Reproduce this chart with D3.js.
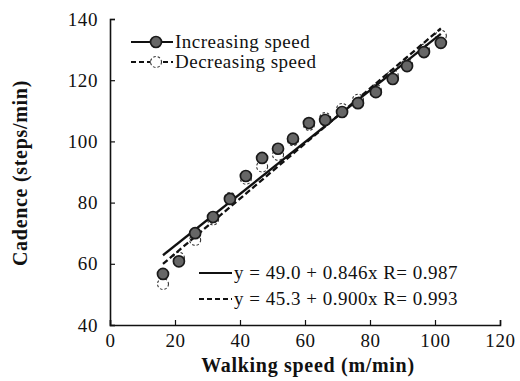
<!DOCTYPE html>
<html>
<head>
<meta charset="utf-8">
<script src="https://cdn.jsdelivr.net/npm/d3@7"></script>
<style>
  html, body { margin: 0; padding: 0; background: #fff; }
  svg { display: block; }
</style>
</head>
<body>
<svg id="chart" width="520" height="381"></svg>
<script>
// Walking speed (m/min) for each trial step
const speeds = [16.3, 21.2, 26.2, 31.7, 36.9, 41.8, 46.8, 51.7, 56.3, 61.2, 66.2, 71.4, 76.3, 81.8, 87.0, 91.4, 96.6, 101.8];
// Cadence (steps/min) while speed was increasing
const cadenceIncreasing = [56.7, 60.8, 70.0, 75.3, 81.2, 88.7, 94.6, 97.6, 100.9, 106.0, 107.0, 109.6, 112.5, 116.1, 120.4, 124.6, 129.2, 132.2];
// Cadence (steps/min) while speed was decreasing
const cadenceDecreasing = [53.4, 62.0, 67.8, 74.5, 81.5, 87.8, 91.8, 95.6, 100.4, 105.4, 107.6, 110.6, 113.6, 116.8, 121.6, 125.2, 130.0, 134.5];
// Linear fits: intercept, slope, correlation
const fitIncreasing = { a: 49.0, b: 0.846, r: 0.987 };
const fitDecreasing = { a: 45.3, b: 0.900, r: 0.993 };
const xTicks = [0, 20, 40, 60, 80, 100, 120];
const yTicks = [40, 60, 80, 100, 120, 140];
const seriesNames = ["Increasing speed", "Decreasing speed"];

const SERIF = "'Liberation Serif', 'Times New Roman', Times, 'DejaVu Serif', serif";

const svg = d3.select("#chart").attr("font-family", SERIF);
const x = d3.scaleLinear().domain([0, 120]).range([110, 500]);
const y = d3.scaleLinear().domain([40, 140]).range([325, 19]);

// Axes with inward ticks
const xAxis = d3.axisBottom(x).tickValues(xTicks).tickSize(-5).tickPadding(8).tickFormat(d3.format("d"));
const yAxis = d3.axisLeft(y).tickValues(yTicks).tickSize(-5).tickPadding(12).tickFormat(d3.format("d"));

const gx = svg.append("g").attr("transform", `translate(0,${y(40)})`).call(xAxis);
const gy = svg.append("g").attr("transform", `translate(${x(0)},0)`).call(yAxis);
[gx, gy].forEach(g => {
  g.attr("font-family", SERIF).attr("font-size", 19);
  g.selectAll("path.domain").attr("stroke", "#111").attr("stroke-width", 1.6);
  g.selectAll(".tick line").attr("stroke", "#111").attr("stroke-width", 1.2);
  g.selectAll(".tick text").attr("fill", "#111").attr("letter-spacing", 0.6);
});
gx.selectAll(".tick text").attr("dy", "0.75em");

// Axis titles
svg.append("text")
  .attr("x", 308).attr("y", 372)
  .attr("text-anchor", "middle")
  .attr("font-size", 20).attr("font-weight", "bold").attr("letter-spacing", 0.7).attr("fill", "#111")
  .text("Walking speed (m/min)");
svg.append("text")
  .attr("transform", "translate(27,173) rotate(-90)")
  .attr("text-anchor", "middle")
  .attr("font-size", 20).attr("font-weight", "bold").attr("letter-spacing", 0.7).attr("fill", "#111")
  .text("Cadence (steps/min)");

const incData = speeds.map((s, i) => ({ s, c: cadenceIncreasing[i] }));
const decData = speeds.map((s, i) => ({ s, c: cadenceDecreasing[i] }));

const line = d3.line().x(d => x(d[0])).y(d => y(d[1]));
const xMin = d3.min(speeds), xMax = d3.max(speeds);
const fitPoints = f => [[xMin, f.a + f.b * xMin], [xMax, f.a + f.b * xMax]];

// Open markers for decreasing speed
svg.append("g").selectAll("circle").data(decData).join("circle")
  .attr("cx", d => x(d.s)).attr("cy", d => y(d.c)).attr("r", 5.5)
  .attr("fill", "#fff").attr("stroke", "#333").attr("stroke-width", 1.1)
  .attr("stroke-dasharray", "2.5,2");

// Regression lines
svg.append("path").datum(fitPoints(fitIncreasing)).attr("d", line)
  .attr("fill", "none").attr("stroke", "#111").attr("stroke-width", 2.3);
svg.append("path").datum(fitPoints(fitDecreasing)).attr("d", line)
  .attr("fill", "none").attr("stroke", "#111").attr("stroke-width", 2.3)
  .attr("stroke-dasharray", "6,3");

// Filled markers for increasing speed
svg.append("g").selectAll("circle").data(incData).join("circle")
  .attr("cx", d => x(d.s)).attr("cy", d => y(d.c)).attr("r", 5.5)
  .attr("fill", "#666").attr("stroke", "#1a1a1a").attr("stroke-width", 1.7);

// Series legend
const legend = svg.append("g");
[0, 1].forEach(i => {
  const ly = 42 + i * 20;
  legend.append("line").attr("x1", 131).attr("x2", 173).attr("y1", ly).attr("y2", ly)
    .attr("stroke", "#111").attr("stroke-width", 2)
    .attr("stroke-dasharray", i === 0 ? null : "5,3");
  legend.append("circle").attr("cx", 156).attr("cy", ly).attr("r", 5.5)
    .attr("fill", i === 0 ? "#666" : "#fff")
    .attr("stroke", i === 0 ? "#1a1a1a" : "#333")
    .attr("stroke-width", i === 0 ? 1.7 : 1.1)
    .attr("stroke-dasharray", i === 0 ? null : "2.5,2");
  legend.append("text").attr("x", 175).attr("y", ly + 6)
    .attr("font-size", 19).attr("letter-spacing", 0.5).attr("fill", "#111")
    .text(seriesNames[i]);
});

// Fit equation legend
const fits = [fitIncreasing, fitDecreasing];
fits.forEach((f, i) => {
  const ly = 273 + i * 26;
  svg.append("line").attr("x1", 199).attr("x2", 232).attr("y1", ly).attr("y2", ly)
    .attr("stroke", "#111").attr("stroke-width", 2)
    .attr("stroke-dasharray", i === 0 ? null : "5,3");
  svg.append("text").attr("x", 234).attr("y", ly + 6)
    .attr("font-size", 19).attr("letter-spacing", 0.5).attr("fill", "#111")
    .text(`y = ${f.a.toFixed(1)} + ${f.b.toFixed(3)}x R= ${f.r.toFixed(3)}`);
});
</script>
</body>
</html>
